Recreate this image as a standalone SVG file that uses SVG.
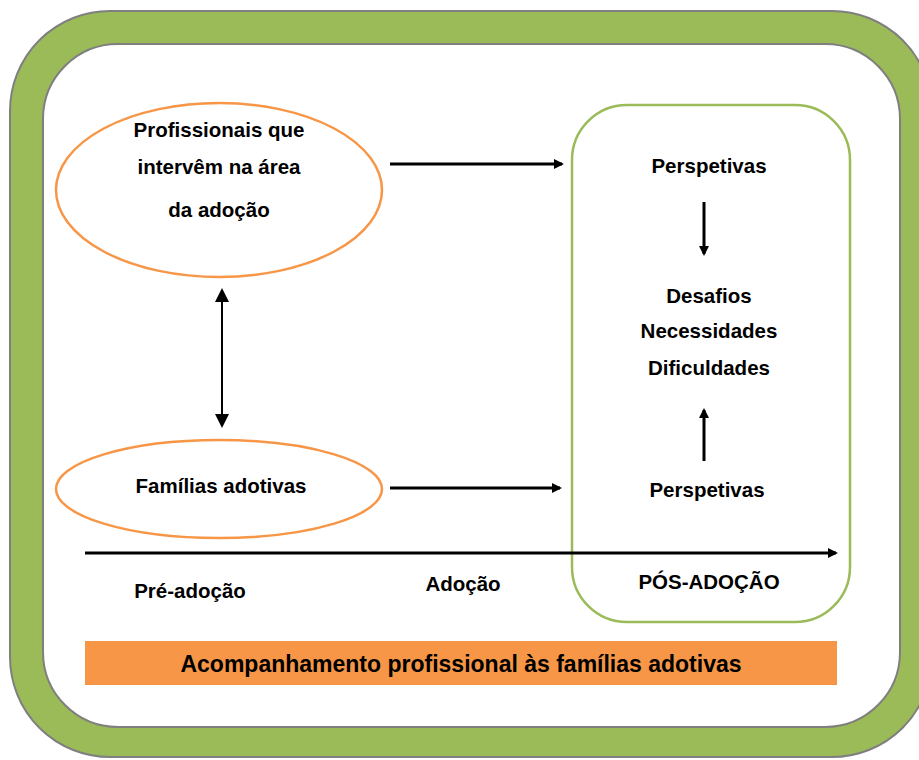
<svg xmlns="http://www.w3.org/2000/svg" width="919" height="760" viewBox="0 0 919 760">
<defs>
<style>
.t{font-family:"Liberation Sans",Arial,sans-serif;font-weight:bold;font-size:20.5px;fill:#000;text-anchor:middle}
.ell{fill:none;stroke:#f79646;stroke-width:2.5}
.ln{stroke:#000;stroke-width:3;fill:none}
</style>
<marker id="ah" markerWidth="10" markerHeight="10" refX="8" refY="5" orient="auto" markerUnits="userSpaceOnUse" viewBox="0 0 10 10">
<path d="M0,0 L10,5 L0,10 z" fill="#000"/>
</marker>
<marker id="ahs" markerWidth="14" markerHeight="14" refX="2" refY="7" orient="auto-start-reverse" markerUnits="userSpaceOnUse" viewBox="0 0 14 14">
<path d="M0,0 L14,7 L0,14 z" fill="#000"/>
</marker>
</defs>
<g id="frame">
<rect x="10" y="11" width="922" height="746" rx="100" fill="#9bbb59" stroke="#7f7f7f" stroke-width="2"/>
<rect x="43" y="44" width="857" height="683" rx="75" fill="#fff" stroke="#7f7f7f" stroke-width="2"/>
</g>
<g id="pos-adocao-box">
<rect x="572" y="105" width="278" height="517" rx="55" fill="none" stroke="#9bbb59" stroke-width="2.5"/>
</g>
<g id="profissionais">
<ellipse class="ell" cx="219" cy="190" rx="163" ry="87"/>
<text class="t" x="219" y="137">Profissionais que</text>
<text class="t" x="219" y="174">intervêm na área</text>
<text class="t" x="219" y="217">da adoção</text>
</g>
<g id="familias">
<ellipse class="ell" cx="219" cy="489" rx="163" ry="49"/>
<text class="t" x="221" y="493">Famílias adotivas</text>
</g>
<g id="perspetivas-top"><text class="t" x="709" y="173">Perspetivas</text></g>
<g id="desafios">
<text class="t" x="709" y="303">Desafios</text>
<text class="t" x="709" y="338">Necessidades</text>
<text class="t" x="709" y="375">Dificuldades</text>
</g>
<g id="perspetivas-bottom"><text class="t" x="707" y="497">Perspetivas</text></g>
<g id="labels">
<text class="t" x="190" y="598">Pré-adoção</text>
<text class="t" x="463" y="591">Adoção</text>
<text class="t" x="709" y="589">PÓS-ADOÇÃO</text>
</g>
<g id="banner">
<rect x="85" y="641" width="752" height="44" fill="#f79646"/>
<text class="t" x="461" y="672" style="font-size:23px">Acompanhamento profissional às famílias adotivas</text>
</g>
<g id="connectors">
<line class="ln" x1="390" y1="164" x2="562" y2="164" marker-end="url(#ah)"/>
<line class="ln" x1="390" y1="488" x2="560" y2="488" marker-end="url(#ah)"/>
<line x1="222" y1="300" x2="222" y2="416" stroke="#000" stroke-width="2" marker-start="url(#ahs)" marker-end="url(#ahs)"/>
<line class="ln" x1="704" y1="202" x2="704" y2="254" marker-end="url(#ah)"/>
<line class="ln" x1="704" y1="461" x2="704" y2="410" marker-end="url(#ah)"/>
<line class="ln" x1="85" y1="553" x2="836" y2="553" marker-end="url(#ah)"/>
</g>
</svg>
